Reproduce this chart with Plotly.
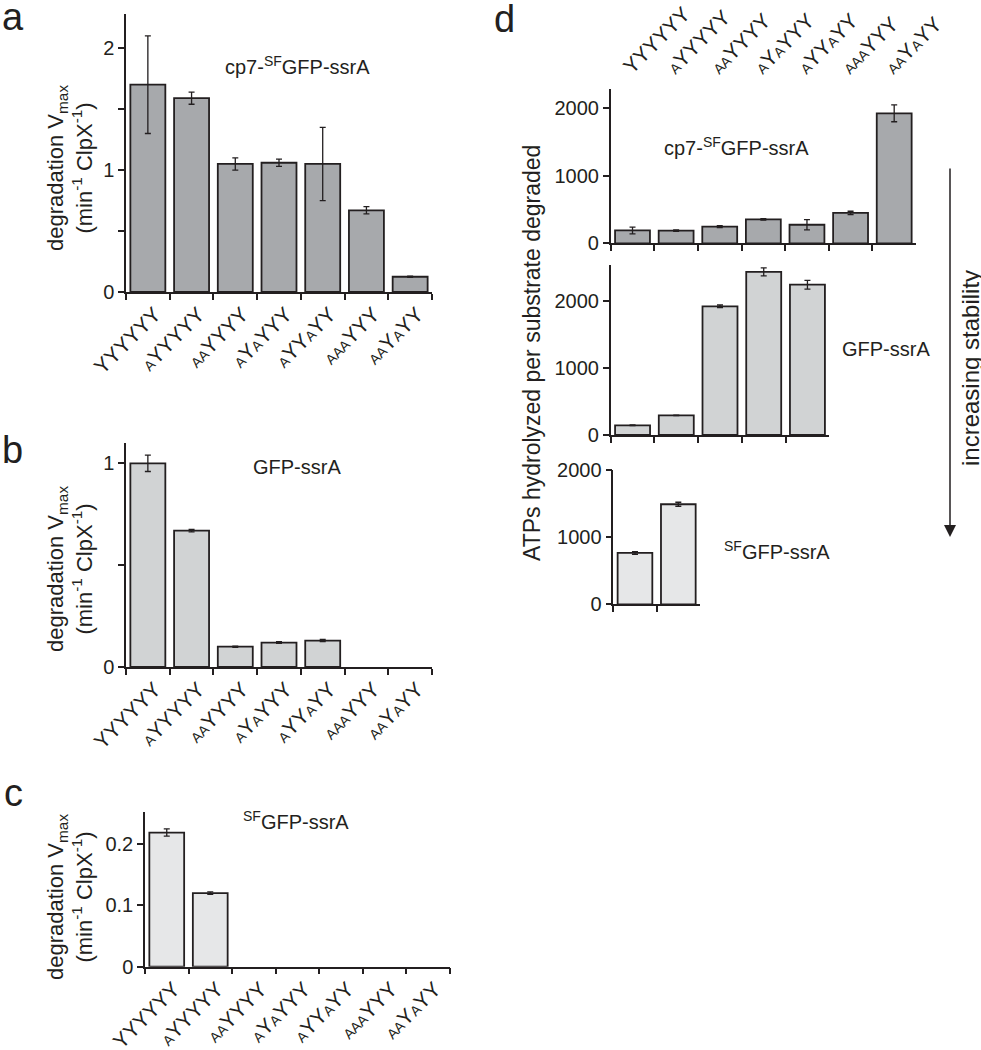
import plotly.graph_objects as go

# data
LABELS = ["YYYYYY", "AYYYYY", "AAYYYY", "AYAYYY", "AYYAYY", "AAAYYY", "AAYAYY"]

vmax_cp7 = [1.70, 1.59, 1.05, 1.06, 1.05, 0.67, 0.125]
vmax_cp7_err = [0.40, 0.05, 0.05, 0.03, 0.30, 0.03, 0.005]

vmax_gfp = [1.00, 0.67, 0.10, 0.12, 0.13, None, None]
vmax_gfp_err = [0.04, 0.006, 0.003, 0.004, 0.005, None, None]

vmax_sf = [0.219, 0.120, None, None, None, None, None]
vmax_sf_err = [0.006, 0.002, None, None, None, None, None]

atp_cp7 = [190, 188, 246, 355, 275, 450, 1925]
atp_cp7_err = [50, 10, 15, 10, 75, 25, 125]

atp_gfp = [145, 293, 1920, 2435, 2243]
atp_gfp_err = [5, 5, 20, 60, 65]

atp_sf = [765, 1490]
atp_sf_err = [20, 30]

INK = "#231F20"
DARK = "#A7A9AC"
MID = "#D1D3D4"
LIGHT = "#E6E7E8"
FONT = "Liberation Sans, Arial, sans-serif"

W, H = 981, 1050


def px(x):
    return x / W


def py(y):
    return 1 - y / H


# small A's in the sequence labels
TICKTEXT = [s.replace("A", "<span style='font-size:14px'>A</span>") for s in LABELS]


def bars(y, err, color, n, xa, ya):
    return go.Bar(
        x=LABELS[:n],
        y=y,
        width=0.8,
        marker=dict(color=color, line=dict(color=INK, width=1.8)),
        error_y=dict(type="data", array=err, color=INK, thickness=1.3, width=3),
        xaxis=xa,
        yaxis=ya,
        showlegend=False,
        hoverinfo="x+y",
    )


def xcat(x0, x1, y_anchor, n, labels):
    return dict(
        domain=[px(x0), px(x1)],
        anchor=y_anchor,
        automargin=False,
        type="category",
        categoryorder="array",
        categoryarray=LABELS[:n],
        range=[-0.5, n - 0.5],
        tickson="boundaries",
        ticks="outside",
        ticklen=6,
        tickwidth=1.5,
        tickcolor=INK,
        showline=True,
        linecolor=INK,
        linewidth=1.5,
        showgrid=False,
        zeroline=False,
        showticklabels=labels,
        tickmode="array",
        tickvals=LABELS[:n],
        ticktext=TICKTEXT[:n],
        tickangle=-45,
        ticklabelshift=7,
        tickfont=dict(size=21, color=INK, family=FONT),
        fixedrange=True,
    )


def yval(y_bottom, y_top, x_anchor, rng, dtick, minor=None):
    d = dict(
        domain=[py(y_bottom), py(y_top)],
        anchor=x_anchor,
        automargin=False,
        range=rng,
        dtick=dtick,
        tick0=0,
        ticks="outside",
        ticklen=6,
        tickwidth=1.5,
        tickcolor=INK,
        showline=True,
        linecolor=INK,
        linewidth=1.5,
        showgrid=False,
        zeroline=False,
        tickfont=dict(size=20, color=INK, family=FONT),
        fixedrange=True,
    )
    if minor:
        d["minor"] = dict(dtick=minor, ticks="outside", ticklen=6, tickwidth=1.5,
                          tickcolor=INK, showgrid=False)
    return d


fig = go.Figure()

fig.add_trace(bars(vmax_cp7, vmax_cp7_err, DARK, 7, "x", "y"))
fig.add_trace(bars(vmax_gfp, vmax_gfp_err, MID, 7, "x2", "y2"))
fig.add_trace(bars(vmax_sf, vmax_sf_err, LIGHT, 7, "x3", "y3"))
fig.add_trace(bars(atp_cp7, atp_cp7_err, DARK, 7, "x4", "y4"))
fig.add_trace(bars(atp_gfp, atp_gfp_err, MID, 5, "x5", "y5"))
fig.add_trace(bars(atp_sf, atp_sf_err, LIGHT, 2, "x6", "y6"))

# invisible carrier so the top label axis of panel d is drawn
fig.add_trace(
    go.Scatter(
        x=LABELS,
        y=atp_cp7,
        mode="markers",
        marker=dict(opacity=0),
        xaxis="x7",
        yaxis="y4",
        showlegend=False,
        hoverinfo="skip",
    )
)

top_labels = xcat(610.7, 916, "y4", 7, True)
top_labels.update(
    overlaying="x4",
    side="top",
    showline=False,
    ticks="",
    ticklabelshift=-8,
    ticklabelstandoff=6,
)

fig.update_layout(
    width=W,
    height=H,
    margin=dict(l=0, r=0, t=0, b=0, autoexpand=False),
    paper_bgcolor="white",
    plot_bgcolor="white",
    font=dict(family=FONT, color=INK, size=20),
    xaxis=xcat(126, 432, "y", 7, True),
    yaxis=yval(292, 14, "x", [0, 2.28], 1, 0.5),
    xaxis2=xcat(126, 432, "y2", 7, True),
    yaxis2=yval(667, 443, "x2", [0, 1.10], 1, 0.5),
    xaxis3=xcat(145, 449.5, "y3", 7, True),
    yaxis3=yval(966.7, 811.7, "x3", [0, 0.253], 0.1),
    xaxis4=xcat(610.7, 916, "y4", 7, False),
    yaxis4=yval(243.3, 89.3, "x4", [0, 2281], 1000),
    xaxis5=xcat(610.7, 829.3, "y5", 5, False),
    yaxis5=yval(435, 265, "x5", [0, 2537], 1000),
    xaxis6=xcat(613.3, 700, "y6", 2, False),
    yaxis6=yval(604.3, 470, "x6", [0, 2000], 1000),
    xaxis7=top_labels,
)

ytitle = "degradation V<sub>max</sub><br>(min<sup>-1</sup> ClpX<sup>-1</sup>)"

notes = [
    # panel letters
    dict(x=px(0), y=py(40), text="a", size=38, xanchor="left", yanchor="bottom"),
    dict(x=px(0), y=py(473), text="b", size=38, xanchor="left", yanchor="bottom"),
    dict(x=px(2), y=py(816), text="c", size=38, xanchor="left", yanchor="bottom"),
    dict(x=px(492), y=py(42), text="d", size=38, xanchor="left", yanchor="bottom"),
    # substrate names
    dict(x=px(297), y=py(65), text="cp7-<sup>SF</sup>GFP-ssrA", size=20),
    dict(x=px(297), y=py(467), text="GFP-ssrA", size=20),
    dict(x=px(296), y=py(820), text="<sup>SF</sup>GFP-ssrA", size=20),
    dict(x=px(736), y=py(146), text="cp7-<sup>SF</sup>GFP-ssrA", size=20),
    dict(x=px(886), y=py(349), text="GFP-ssrA", size=20),
    dict(x=px(777), y=py(550), text="<sup>SF</sup>GFP-ssrA", size=20),
    # axis titles
    dict(x=px(70), y=py(168), text=ytitle, size=22, angle=-90),
    dict(x=px(70), y=py(569), text=ytitle, size=22, angle=-90),
    dict(x=px(70), y=py(897), text=ytitle, size=22, angle=-90),
    dict(x=px(532), y=py(353), text="ATPs hydrolyzed per substrate degraded", size=23, angle=-90),
    dict(x=px(970), y=py(368), text="increasing stability", size=24, angle=-90),
]

for n in notes:
    fig.add_annotation(
        x=n["x"],
        y=n["y"],
        xref="paper",
        yref="paper",
        text=n["text"],
        showarrow=False,
        textangle=n.get("angle", 0),
        xanchor=n.get("xanchor", "center"),
        yanchor=n.get("yanchor", "middle"),
        font=dict(size=n["size"], color=INK, family=FONT),
    )

# stability arrow
fig.add_annotation(
    x=px(950),
    y=py(537),
    xref="paper",
    yref="paper",
    ax=0,
    ay=-370,
    axref="pixel",
    ayref="pixel",
    text="",
    showarrow=True,
    arrowhead=2,
    arrowsize=1.6,
    arrowwidth=1.5,
    arrowcolor=INK,
)

# drop the browser's default body margin so the 981x1050 figure fits the window
fig.write_html(
    "out.html",
    config={"displayModeBar": False},
    post_script="document.body.style.margin = '0';",
)
